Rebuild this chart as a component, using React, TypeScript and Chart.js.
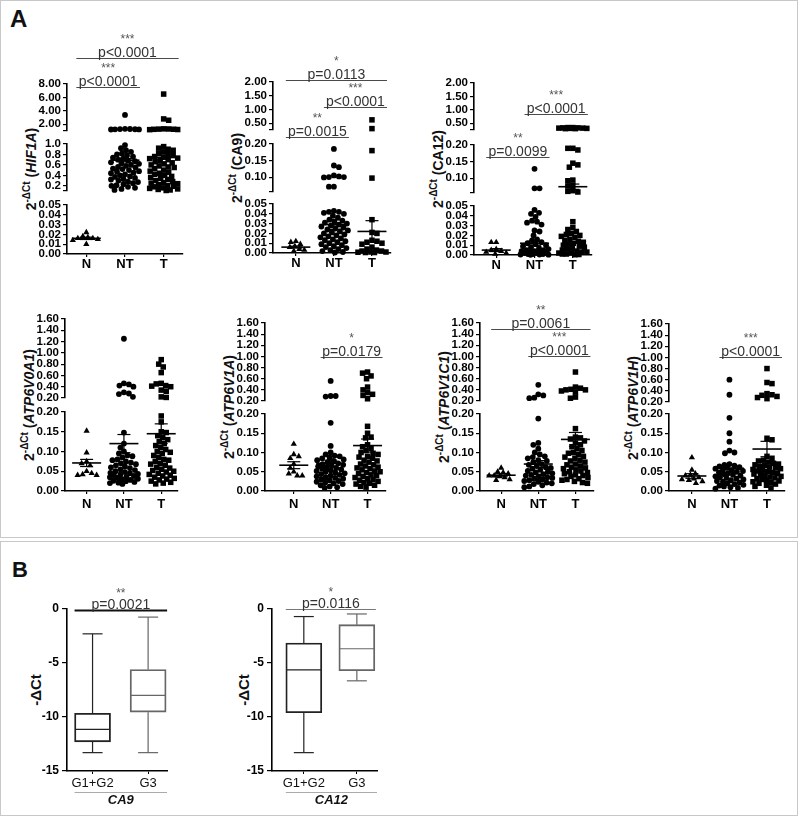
import React, { useEffect, useRef } from 'react';
import { Chart, registerables } from 'chart.js';
Chart.register(...registerables);

const FONT = "'Liberation Sans', Arial, Helvetica, sans-serif";
const GROUPS = ['N', 'NT', 'T'];
const BOX_GROUPS = ['G1+G2', 'G3'];

// ---------- HIF1A ----------
const HIF1A_N = [0.022, 0.018, 0.017, 0.016, 0.016, 0.015, 0.014, 0.010];
const HIF1A_NT = [3.4, 1.32, 1.3, 1.28, 1.26, 1.25, 1.24, 1.22, 0.98, 0.92, 0.88, 0.85, 0.82, 0.8, 0.78, 0.76, 0.74, 0.72, 0.7, 0.68, 0.67, 0.65, 0.63, 0.62, 0.6, 0.58, 0.56, 0.55, 0.53, 0.52, 0.5, 0.48, 0.47, 0.45, 0.44, 0.42, 0.4, 0.38, 0.37, 0.35, 0.33, 0.32, 0.3, 0.28, 0.27, 0.25, 0.23, 0.21, 0.2, 0.18, 0.16, 0.14, 0.12];
const HIF1A_T = [6.5, 2.8, 2.6, 1.32, 1.3, 1.28, 1.26, 1.25, 1.22, 1.2, 0.95, 0.92, 0.9, 0.88, 0.85, 0.82, 0.8, 0.78, 0.76, 0.75, 0.73, 0.72, 0.7, 0.68, 0.66, 0.64, 0.62, 0.6, 0.58, 0.56, 0.55, 0.53, 0.5, 0.48, 0.46, 0.44, 0.42, 0.4, 0.38, 0.36, 0.34, 0.32, 0.3, 0.28, 0.26, 0.25, 0.24, 0.22, 0.2, 0.19, 0.18, 0.16, 0.15, 0.14, 0.13, 0.12, 0.11];
const HIF1A_MEAN = [0.016, 0.69, 0.745];
const HIF1A_SEM = [0.0012, 0.03, 0.035];
const HIF1A_RANGES = [[1, 8], [0.1, 1.0], [0, 0.05]];
const HIF1A_TICKS = [[1, 2, 4, 6, 8], [0.1, 0.2, 0.4, 0.6, 0.8, 1.0], [0, 0.01, 0.02, 0.03, 0.04, 0.05]];
const HIF1A_LABELS = [['', '2.00', '4.00', '6.00', '8.00'], ['', '0.2', '0.4', '0.6', '0.8', '1.0'], ['0.00', '0.01', '0.02', '0.03', '0.04', '0.05']];
const HIF1A_ANNS = [
  { from: 0, to: 2, p: 'p<0.0001', stars: '***', dy: 26 },
  { from: 0, to: 1, p: 'p<0.0001', stars: '***', dy: -3 },
];

// ---------- CA9 ----------
const CA9_N = [0.012, 0.011, 0.009, 0.007, 0.006, 0.004, 0.003, 0.002];
const CA9_NT = [0.185, 0.135, 0.13, 0.105, 0.102, 0.1, 0.1, 0.099, 0.071, 0.071, 0.043, 0.042, 0.042, 0.041, 0.04, 0.038, 0.036, 0.034, 0.033, 0.032, 0.031, 0.03, 0.029, 0.028, 0.027, 0.026, 0.025, 0.024, 0.023, 0.022, 0.021, 0.02, 0.019, 0.018, 0.017, 0.016, 0.015, 0.014, 0.013, 0.012, 0.011, 0.01, 0.009, 0.008, 0.007, 0.006, 0.005, 0.004, 0.003, 0.002, 0.001, 0.0005];
const CA9_T = [0.62, 0.3, 0.18, 0.097, 0.034, 0.021, 0.02, 0.013, 0.012, 0.011, 0.01, 0.009, 0.006, 0.004, 0.003, 0.002, 0.002, 0.001, 0.001, 0.0008, 0.0005, 0.0005];
const CA9_MEAN = [0.006, 0.029, 0.022];
const CA9_SEM = [0.001, 0.005, 0.011];
const CA_RANGES = [[0.25, 2.0], [0.055, 0.2], [0, 0.05]];
const CA_TICKS = [[0.25, 0.5, 1.0, 1.5, 2.0], [0.055, 0.1, 0.15, 0.2], [0, 0.01, 0.02, 0.03, 0.04, 0.05]];
const CA_LABELS = [['', '0.50', '1.00', '1.50', '2.00'], ['', '0.10', '0.15', '0.20'], ['0.00', '0.01', '0.02', '0.03', '0.04', '0.05']];
const CA9_ANNS = [
  { from: 0, to: 2, p: 'p=0.0113', stars: '*', dy: 2 },
  { from: 1, to: 2, p: 'p<0.0001', stars: '***', dy: -25 },
  { from: 0, to: 1, p: 'p=0.0015', stars: '**', dy: -55 },
];

// ---------- CA12 ----------
const CA12_N = [0.013, 0.013, 0.006, 0.005, 0.004, 0.003, 0.002, 0.001];
const CA12_NT = [0.128, 0.069, 0.069, 0.046, 0.043, 0.042, 0.039, 0.035, 0.034, 0.033, 0.031, 0.025, 0.024, 0.02, 0.016, 0.015, 0.013, 0.012, 0.011, 0.01, 0.009, 0.008, 0.007, 0.006, 0.005, 0.005, 0.004, 0.004, 0.003, 0.003, 0.002, 0.002, 0.002, 0.001, 0.001, 0.001, 0.0005, 0.0005, 0.0003, 0.0002];
const CA12_T = [0.34, 0.34, 0.33, 0.33, 0.32, 0.32, 0.31, 0.31, 0.3, 0.3, 0.19, 0.19, 0.185, 0.145, 0.14, 0.133, 0.094, 0.092, 0.078, 0.076, 0.062, 0.06, 0.058, 0.034, 0.028, 0.026, 0.024, 0.022, 0.021, 0.02, 0.019, 0.018, 0.016, 0.015, 0.014, 0.013, 0.012, 0.011, 0.01, 0.009, 0.008, 0.007, 0.006, 0.005, 0.004, 0.003, 0.003, 0.002, 0.002, 0.001, 0.001, 0.0005, 0.0003];
const CA12_MEAN = [0.005, 0.012, 0.074];
const CA12_SEM = [0.0015, 0.002, 0.008];
const CA12_ANNS = [
  { from: 1, to: 2, p: 'p<0.0001', stars: '***', dy: -31 },
  { from: 0, to: 1, p: 'p=0.0099', stars: '**', dy: -74 },
];

// ---------- ATP6V* shared axes ----------
const ATP_RANGES = [[0.2, 1.6], [0, 0.2]];
const ATP_TICKS = [[0.2, 0.4, 0.6, 0.8, 1.0, 1.2, 1.4, 1.6], [0, 0.05, 0.1, 0.15, 0.2]];
const ATP_LABELS = [['0.20', '0.40', '0.60', '0.80', '1.00', '1.20', '1.40', '1.60'], ['0.00', '0.05', '0.10', '0.15', '0.20']];

// ATP6V0A1
const V0A1_N = [0.152, 0.097, 0.075, 0.07, 0.065, 0.05, 0.045, 0.042, 0.04, 0.04];
const V0A1_NT = [1.25, 0.46, 0.44, 0.42, 0.4, 0.3, 0.28, 0.27, 0.22, 0.148, 0.12, 0.11, 0.1, 0.095, 0.09, 0.088, 0.085, 0.08, 0.078, 0.075, 0.072, 0.07, 0.068, 0.065, 0.062, 0.06, 0.058, 0.055, 0.053, 0.05, 0.048, 0.046, 0.045, 0.043, 0.042, 0.04, 0.038, 0.036, 0.035, 0.033, 0.031, 0.03, 0.028, 0.026, 0.025, 0.023, 0.021, 0.02, 0.018];
const V0A1_T = [0.88, 0.8, 0.75, 0.65, 0.46, 0.45, 0.42, 0.41, 0.4, 0.34, 0.32, 0.22, 0.21, 0.19, 0.175, 0.15, 0.148, 0.14, 0.135, 0.13, 0.125, 0.12, 0.115, 0.11, 0.105, 0.1, 0.098, 0.095, 0.09, 0.085, 0.08, 0.078, 0.075, 0.07, 0.068, 0.065, 0.06, 0.058, 0.055, 0.052, 0.05, 0.048, 0.045, 0.042, 0.04, 0.038, 0.035, 0.032, 0.03, 0.028, 0.025, 0.022, 0.02, 0.018];
const V0A1_MEAN = [0.071, 0.12, 0.145];
const V0A1_SEM = [0.009, 0.023, 0.025];
const V0A1_ANNS: any[] = [];

// ATP6V1A
const V1A_N = [0.122, 0.095, 0.09, 0.085, 0.07, 0.06, 0.05, 0.045, 0.04, 0.04];
const V1A_NT = [0.56, 0.29, 0.29, 0.28, 0.177, 0.117, 0.1, 0.095, 0.092, 0.09, 0.087, 0.085, 0.082, 0.08, 0.078, 0.075, 0.072, 0.07, 0.068, 0.066, 0.064, 0.062, 0.06, 0.058, 0.056, 0.054, 0.052, 0.05, 0.048, 0.046, 0.044, 0.042, 0.04, 0.038, 0.036, 0.034, 0.032, 0.03, 0.028, 0.026, 0.024, 0.022, 0.02, 0.018, 0.015, 0.012, 0.01, 0.008];
const V1A_T = [0.72, 0.7, 0.65, 0.6, 0.45, 0.4, 0.35, 0.32, 0.3, 0.24, 0.168, 0.15, 0.14, 0.138, 0.12, 0.115, 0.11, 0.105, 0.1, 0.098, 0.095, 0.09, 0.088, 0.085, 0.08, 0.078, 0.075, 0.07, 0.068, 0.065, 0.062, 0.06, 0.058, 0.055, 0.052, 0.05, 0.048, 0.045, 0.042, 0.04, 0.038, 0.035, 0.032, 0.03, 0.028, 0.025, 0.022, 0.02, 0.018, 0.015, 0.012, 0.01];
const V1A_MEAN = [0.067, 0.072, 0.118];
const V1A_SEM = [0.009, 0.008, 0.017];
const V1A_ANNS = [{ from: 1, to: 2, p: 'p=0.0179', stars: '*', dy: -34 }];

// ATP6V1C1
const V1C1_N = [0.06, 0.05, 0.048, 0.045, 0.04, 0.04, 0.038, 0.035, 0.03, 0.028];
const V1C1_NT = [0.49, 0.32, 0.3, 0.26, 0.25, 0.188, 0.125, 0.12, 0.11, 0.1, 0.095, 0.09, 0.088, 0.085, 0.08, 0.078, 0.075, 0.07, 0.068, 0.065, 0.062, 0.06, 0.058, 0.055, 0.052, 0.05, 0.048, 0.046, 0.044, 0.042, 0.04, 0.038, 0.036, 0.034, 0.032, 0.03, 0.028, 0.026, 0.024, 0.022, 0.02, 0.018, 0.015, 0.012, 0.01];
const V1C1_T = [0.72, 0.45, 0.43, 0.41, 0.4, 0.4, 0.38, 0.36, 0.27, 0.25, 0.162, 0.14, 0.138, 0.135, 0.13, 0.125, 0.12, 0.115, 0.11, 0.105, 0.1, 0.098, 0.095, 0.09, 0.088, 0.085, 0.08, 0.078, 0.075, 0.07, 0.068, 0.065, 0.062, 0.06, 0.058, 0.055, 0.052, 0.05, 0.048, 0.045, 0.042, 0.04, 0.038, 0.035, 0.032, 0.03, 0.028, 0.025, 0.022, 0.02];
const V1C1_MEAN = [0.041, 0.07, 0.134];
const V1C1_SEM = [0.004, 0.009, 0.018];
const V1C1_ANNS = [
  { from: 0, to: 2, p: 'p=0.0061', stars: '**', dy: -6 },
  { from: 1, to: 2, p: 'p<0.0001', stars: '***', dy: -33 },
];

// ATP6V1H
const V1H_N = [0.087, 0.055, 0.045, 0.042, 0.04, 0.035, 0.032, 0.03, 0.028, 0.025, 0.02];
const V1H_NT = [0.6, 0.33, 0.19, 0.15, 0.128, 0.105, 0.1, 0.098, 0.07, 0.068, 0.066, 0.064, 0.062, 0.06, 0.058, 0.056, 0.054, 0.052, 0.05, 0.048, 0.046, 0.044, 0.042, 0.04, 0.038, 0.036, 0.034, 0.032, 0.03, 0.028, 0.026, 0.024, 0.022, 0.02, 0.018, 0.016, 0.014, 0.012, 0.01, 0.008, 0.006];
const V1H_T = [0.8, 0.55, 0.53, 0.35, 0.33, 0.32, 0.3, 0.28, 0.26, 0.137, 0.133, 0.09, 0.085, 0.08, 0.078, 0.075, 0.072, 0.07, 0.068, 0.066, 0.064, 0.062, 0.06, 0.058, 0.056, 0.054, 0.052, 0.05, 0.048, 0.046, 0.044, 0.042, 0.04, 0.038, 0.036, 0.034, 0.032, 0.03, 0.028, 0.026, 0.024, 0.022, 0.02, 0.018, 0.015, 0.012, 0.008];
const V1H_MEAN = [0.039, 0.059, 0.109];
const V1H_SEM = [0.006, 0.01, 0.02];
const V1H_ANNS = [{ from: 1, to: 2, p: 'p<0.0001', stars: '***', dy: -33 }];

// ---------- Panel B box plots (-ΔCt) ----------
const B_CA9_MIN = [-13.3, -13.3];
const B_CA9_Q1 = [-12.3, -9.55];
const B_CA9_MED = [-11.15, -8.0];
const B_CA9_Q3 = [-9.65, -5.6];
const B_CA9_MAX = [-2.3, -0.75];
const B_CA12_MIN = [-13.3, -6.65];
const B_CA12_Q1 = [-9.6, -5.72];
const B_CA12_MED = [-5.64, -3.68];
const B_CA12_Q3 = [-3.15, -1.45];
const B_CA12_MAX = [-0.7, -0.46];
const B_TICKS = [-15, -10, -5, 0];
const B_LABELS = ['-15', '-10', '-5', '0'];
const B_CA9_ANNS = [{ from: 0, to: 1, p: 'p=0.0021', stars: '**', dy: -1 }];
const B_CA12_ANNS = [{ from: 0, to: 1, p: 'p=0.0116', stars: '*', dy: 0 }];

// ---------- style constants ----------
const AXIS_W = 44;
const RIGHT_PAD = 22;
const STYLES = ['triangle', 'circle', 'rect'];
const RADII = [3.6, 2.9, 3.9];
const MIN_D = 5.0;
const MAX_OFF = 14;

function swarm(ys: number[], d: number, maxOff: number): number[] {
  const order = ys.map((_, i) => i).sort((a, b) => ys[a] - ys[b]);
  const placed: number[][] = [];
  const out: number[] = new Array(ys.length).fill(0);
  const cands: number[] = [0];
  for (let s = 0.5; s <= maxOff; s += 0.5) cands.push(s, -s);
  order.forEach((i, n) => {
    const y = ys[i];
    const near = placed.filter((p) => Math.abs(p[1] - y) < d);
    const sgn = n % 2 === 0 ? 1 : -1;
    let best = 0;
    let bestScore = -1;
    for (const c0 of cands) {
      const c = c0 * sgn;
      let m = Infinity;
      for (const p of near) {
        const dist = Math.hypot(p[0] - c, p[1] - y);
        if (dist < m) m = dist;
      }
      if (m >= d) { best = c; break; }
      if (m > bestScore) { bestScore = m; best = c; }
    }
    placed.push([best, y]);
    out[i] = best;
  });
  return out;
}

function annPlugin(anns: any[], ext: number[], starGap: number) {
  return {
    id: 'annotations',
    afterDraw(chart: any) {
      const ctx = chart.ctx;
      const xs = chart.scales.x;
      const top = chart.chartArea.top;
      ctx.save();
      for (const a of anns) {
        const x1 = xs.getPixelForValue(a.from) - ext[0];
        const x2 = xs.getPixelForValue(a.to) + ext[1];
        const y = Math.round(top - a.dy) + 0.5;
        ctx.strokeStyle = a.color || '#4a4a4a';
        ctx.lineWidth = a.lw || 1.1;
        ctx.beginPath();
        ctx.moveTo(x1, y);
        ctx.lineTo(x2, y);
        ctx.stroke();
        const cx = (x1 + x2) / 2;
        ctx.fillStyle = '#333';
        ctx.textAlign = 'center';
        ctx.textBaseline = 'alphabetic';
        ctx.font = `14px ${FONT}`;
        ctx.fillText(a.p, cx, y - 2);
        ctx.font = `12px ${FONT}`;
        ctx.fillStyle = '#555';
        ctx.fillText(a.stars, cx, y - starGap);
      }
      ctx.restore();
    },
  };
}

type DotCfg = {
  gene: string; italic: boolean;
  groups: number[][]; mean: number[]; sem: number[];
  ranges: number[][]; ticks: number[][]; labels: string[][];
  anns: any[];
  layout: { axisX: number; top: number; segH: number[]; gaps: number[]; xMin: number; xMax: number; plotW: number; padTop: number; xH: number; xPad: number; tickFont: number };
};

const DOTS: DotCfg[] = [
  { gene: 'HIF1A', italic: true, groups: [HIF1A_N, HIF1A_NT, HIF1A_T], mean: HIF1A_MEAN, sem: HIF1A_SEM, ranges: HIF1A_RANGES, ticks: HIF1A_TICKS, labels: HIF1A_LABELS, anns: HIF1A_ANNS,
    layout: { axisX: 67, top: 84, segH: [47, 47, 49], gaps: [13, 14], xMin: -0.5, xMax: 2.5, plotW: 116, padTop: 60, xH: 22, xPad: 0, tickFont: 11.5 } },
  { gene: 'CA9', italic: false, groups: [CA9_N, CA9_NT, CA9_T], mean: CA9_MEAN, sem: CA9_SEM, ranges: CA_RANGES, ticks: CA_TICKS, labels: CA_LABELS, anns: CA9_ANNS,
    layout: { axisX: 273, top: 82, segH: [48, 48, 49], gaps: [14, 12], xMin: -0.6, xMax: 2.5, plotW: 118, padTop: 40, xH: 22, xPad: 0, tickFont: 11.5 } },
  { gene: 'CA12', italic: false, groups: [CA12_N, CA12_NT, CA12_T], mean: CA12_MEAN, sem: CA12_SEM, ranges: CA_RANGES, ticks: CA_TICKS, labels: CA_LABELS, anns: CA12_ANNS,
    layout: { axisX: 474, top: 83, segH: [47, 48, 49], gaps: [15, 13], xMin: -0.58, xMax: 2.5, plotW: 118, padTop: 30, xH: 22, xPad: 0, tickFont: 11.5 } },
  { gene: 'ATP6V0A1', italic: true, groups: [V0A1_N, V0A1_NT, V0A1_T], mean: V0A1_MEAN, sem: V0A1_SEM, ranges: ATP_RANGES, ticks: ATP_TICKS, labels: ATP_LABELS, anns: V0A1_ANNS,
    layout: { axisX: 65, top: 319, segH: [79, 79], gaps: [14], xMin: -0.58, xMax: 2.45, plotW: 113, padTop: 30, xH: 24, xPad: 3, tickFont: 11.5 } },
  { gene: 'ATP6V1A', italic: true, groups: [V1A_N, V1A_NT, V1A_T], mean: V1A_MEAN, sem: V1A_SEM, ranges: ATP_RANGES, ticks: ATP_TICKS, labels: ATP_LABELS, anns: V1A_ANNS,
    layout: { axisX: 265, top: 323, segH: [78, 77], gaps: [13], xMin: -0.78, xMax: 2.5, plotW: 121, padTop: 30, xH: 24, xPad: 3, tickFont: 11.5 } },
  { gene: 'ATP6V1C1', italic: true, groups: [V1C1_N, V1C1_NT, V1C1_T], mean: V1C1_MEAN, sem: V1C1_SEM, ranges: ATP_RANGES, ticks: ATP_TICKS, labels: ATP_LABELS, anns: V1C1_ANNS,
    layout: { axisX: 480, top: 323, segH: [78, 77], gaps: [13], xMin: -0.57, xMax: 2.5, plotW: 114, padTop: 30, xH: 24, xPad: 3, tickFont: 11.5 } },
  { gene: 'ATP6V1H', italic: true, groups: [V1H_N, V1H_NT, V1H_T], mean: V1H_MEAN, sem: V1H_SEM, ranges: ATP_RANGES, ticks: ATP_TICKS, labels: ATP_LABELS, anns: V1H_ANNS,
    layout: { axisX: 669, top: 324, segH: [78, 77], gaps: [12], xMin: -0.61, xMax: 2.48, plotW: 116, padTop: 30, xH: 24, xPad: 3, tickFont: 11.5 } },
];

function DotPanel({ c }: { c: DotCfg }) {
  const ref = useRef<HTMLCanvasElement>(null);
  const L = c.layout;
  const plotH = L.segH.reduce((a, b) => a + b, 0) + L.gaps.reduce((a, b) => a + b, 0);
  const W = AXIS_W + L.plotW + RIGHT_PAD;
  const H = L.padTop + plotH + L.xH;

  useEffect(() => {
    const sp = L.plotW / (L.xMax - L.xMin);
    const segs = c.ranges.map((r, i) => ({ min: r[0], max: r[1], h: L.segH[i], top: 0 }));
    let acc = 0;
    segs.forEach((s, i) => { s.top = acc; acc += s.h + (L.gaps[i] || 0); });
    const segOf = (v: number) => {
      let best = 0, bd = Infinity;
      segs.forEach((s, i) => {
        const d = v < s.min ? s.min - v : v > s.max ? v - s.max : 0;
        if (d < bd) { bd = d; best = i; }
      });
      return best;
    };
    const clampTo = (v: number, s: any) => Math.min(s.max, Math.max(s.min, v));
    const toPx = (v: number, si: number) => {
      const s = segs[si];
      return s.top + ((s.max - clampTo(v, s)) / (s.max - s.min)) * s.h;
    };

    const datasets: any[] = [];
    c.groups.forEach((_, g) => {
      const m = c.mean[g], e = c.sem[g];
      const si = segOf(m);
      const s = segs[si];
      datasets.push({
        type: 'scatter', data: [{ x: g, y: clampTo(m, s) }], yAxisID: 'y' + si,
        pointStyle: 'line', pointRadius: 14.5, pointBorderColor: '#000', pointBorderWidth: 1.6, order: 0, clip: false,
      });
      datasets.push({
        type: 'scatter', data: [{ x: g, y: clampTo(m + e, s) }, { x: g, y: clampTo(m - e, s) }], yAxisID: 'y' + si,
        pointStyle: 'line', pointRadius: 6.5, pointBorderColor: '#000', pointBorderWidth: 1.2,
        showLine: true, borderColor: '#000', borderWidth: 1.2, order: 0, clip: false,
      });
    });
    c.groups.forEach((vals, g) => {
      const sis = vals.map(segOf);
      const ys = vals.map((v, i) => toPx(v, sis[i]));
      const offs = swarm(ys, MIN_D, MAX_OFF);
      segs.forEach((s, si) => {
        const data: any[] = [];
        vals.forEach((v, i) => { if (sis[i] === si) data.push({ x: g + offs[i] / sp, y: clampTo(v, s) }); });
        if (data.length) {
          datasets.push({
            type: 'scatter', data, yAxisID: 'y' + si, pointStyle: STYLES[g], pointRadius: RADII[g],
            pointBackgroundColor: '#000', pointBorderColor: '#000', pointBorderWidth: 0, order: 1, clip: false,
          });
        }
      });
    });

    // Chart.js stacks scales of one stack with the last-declared on top,
    // so the segments are declared from the bottom one upwards.
    const scales: any = {};
    for (let si = segs.length - 1; si >= 0; si--) {
      const s = segs[si];
      scales['y' + si] = {
        type: 'linear', position: 'left', stack: 'ystack', stackWeight: s.h, min: s.min, max: s.max,
        afterFit: (sc: any) => { sc.width = AXIS_W; },
        afterBuildTicks: (sc: any) => { sc.ticks = c.ticks[si].map((v) => ({ value: v })); },
        ticks: { autoSkip: false, padding: 2, color: '#000', font: { family: FONT, size: L.tickFont, weight: 'bold' }, callback: (_v: any, i: number) => c.labels[si][i] },
        grid: { display: true, drawOnChartArea: false, drawTicks: true, tickLength: 4, color: '#000', lineWidth: 1.2 },
        border: { display: true, color: '#000', width: 1.6 },
      };
      if (si > 0) {
        scales['gap' + (si - 1)] = {
          type: 'linear', position: 'left', stack: 'ystack', stackWeight: L.gaps[si - 1], display: true,
          afterFit: (sc: any) => { sc.width = AXIS_W; },
          grid: { display: false }, border: { display: false }, ticks: { display: false },
        };
      }
    }
    scales.x = {
      type: 'linear', min: L.xMin, max: L.xMax, offset: false,
      afterFit: (sc: any) => { sc.height = L.xH; },
      afterBuildTicks: (sc: any) => { sc.ticks = [0, 1, 2].map((v) => ({ value: v })); },
      ticks: { autoSkip: false, maxRotation: 0, padding: L.xPad, color: '#000', font: { family: FONT, size: 13, weight: 'bold' }, callback: (_v: any, i: number) => GROUPS[i] },
      grid: { display: true, drawOnChartArea: false, drawTicks: true, tickLength: 3, color: '#000', lineWidth: 1.2, offset: false },
      border: { display: true, color: '#000', width: 1.6 },
    };

    const chart = new Chart(ref.current as HTMLCanvasElement, {
      type: 'scatter',
      data: { datasets },
      options: {
        responsive: false, animation: false, events: [],
        layout: { padding: { top: L.padTop, right: RIGHT_PAD, left: 0, bottom: 0 } },
        plugins: { legend: { display: false }, tooltip: { enabled: false } },
        scales,
      } as any,
      plugins: [annPlugin(c.anns, [10, 15], 16)],
    } as any);
    return () => chart.destroy();
  }, []);

  return (
    <>
      <div style={{
        position: 'absolute', left: L.axisX - 36, top: L.top + plotH / 2,
        transform: 'translate(-50%, -50%) rotate(-90deg)', whiteSpace: 'nowrap',
        fontWeight: 'bold', fontSize: 14, lineHeight: 1, color: '#111',
      }}>
        2<span style={{ fontSize: 10, position: 'relative', top: -6 }}>-ΔCt</span> ({c.italic ? <i>{c.gene}</i> : c.gene})
      </div>
      <canvas ref={ref} width={W} height={H}
        style={{ position: 'absolute', left: L.axisX - AXIS_W, top: L.top - L.padTop, width: W, height: H }} />
    </>
  );
}

type BoxCfg = {
  gene: string; min: number[]; q1: number[]; med: number[]; q3: number[]; max: number[]; anns: any[];
  layout: { axisX: number; top: number; plotH: number; xMin: number; xMax: number; plotW: number; padTop: number; xH: number; titleDx: number };
};

const BOXES: BoxCfg[] = [
  { gene: 'CA9', min: B_CA9_MIN, q1: B_CA9_Q1, med: B_CA9_MED, q3: B_CA9_Q3, max: B_CA9_MAX, anns: B_CA9_ANNS.map((a) => ({ ...a, color: '#111', lw: 1.8 })),
    layout: { axisX: 67, top: 609, plotH: 162, xMin: -0.46, xMax: 1.34, plotW: 100, padTop: 40, xH: 46, titleDx: 32 } },
  { gene: 'CA12', min: B_CA12_MIN, q1: B_CA12_Q1, med: B_CA12_MED, q3: B_CA12_Q3, max: B_CA12_MAX, anns: B_CA12_ANNS.map((a) => ({ ...a, color: '#777', lw: 1 })),
    layout: { axisX: 272, top: 609, plotH: 162, xMin: -0.6, xMax: 1.38, plotW: 105, padTop: 40, xH: 46, titleDx: 29 } },
];
const BOX_COLORS = ['#222', '#666'];

function BoxPanel({ c }: { c: BoxCfg }) {
  const ref = useRef<HTMLCanvasElement>(null);
  const L = c.layout;
  const W = AXIS_W + L.plotW + RIGHT_PAD;
  const H = L.padTop + L.plotH + L.xH;

  useEffect(() => {
    const datasets: any[] = [];
    datasets.push({
      type: 'bar', data: c.q1.map((q, i) => ({ x: i, y: [q, c.q3[i]] })),
      backgroundColor: 'rgba(255,255,255,0)', borderColor: BOX_COLORS, borderWidth: 1.2, borderSkipped: false,
      barThickness: 36, order: 1,
    });
    c.q1.forEach((_, i) => {
      const col = BOX_COLORS[i];
      datasets.push({ type: 'scatter', showLine: true, data: [{ x: i, y: c.max[i] }, { x: i, y: c.q3[i] }], borderColor: col, borderWidth: 1.2, pointRadius: 0, order: 0 });
      datasets.push({ type: 'scatter', showLine: true, data: [{ x: i, y: c.q1[i] }, { x: i, y: c.min[i] }], borderColor: col, borderWidth: 1.2, pointRadius: 0, order: 0 });
      datasets.push({ type: 'scatter', data: [{ x: i, y: c.max[i] }, { x: i, y: c.min[i] }], pointStyle: 'line', pointRadius: 10, pointBorderColor: col, pointBorderWidth: 1.2, order: 0 });
      datasets.push({ type: 'scatter', data: [{ x: i, y: c.med[i] }], pointStyle: 'line', pointRadius: 17.5, pointBorderColor: col, pointBorderWidth: 1.2, order: 0 });
    });

    const genePlugin = {
      id: 'geneLabel',
      afterDraw(chart: any) {
        const ctx = chart.ctx;
        const xs = chart.scales.x;
        const b = chart.chartArea.bottom;
        const x1 = xs.getPixelForValue(0) - 18;
        const x2 = chart.chartArea.right;
        ctx.save();
        ctx.strokeStyle = '#aaa';
        ctx.lineWidth = 1;
        ctx.beginPath();
        ctx.moveTo(x1, Math.round(b + 21) + 0.5);
        ctx.lineTo(x2, Math.round(b + 21) + 0.5);
        ctx.stroke();
        ctx.fillStyle = '#111';
        ctx.font = `italic bold 13px ${FONT}`;
        ctx.textAlign = 'center';
        ctx.textBaseline = 'middle';
        ctx.fillText(c.gene, (x1 + x2) / 2, b + 29);
        ctx.restore();
      },
    };

    const chart = new Chart(ref.current as HTMLCanvasElement, {
      type: 'scatter',
      data: { datasets },
      options: {
        responsive: false, animation: false, events: [],
        layout: { padding: { top: L.padTop, right: RIGHT_PAD, left: 0, bottom: 0 } },
        plugins: { legend: { display: false }, tooltip: { enabled: false } },
        scales: {
          y: {
            type: 'linear', position: 'left', min: -15, max: 0,
            afterFit: (sc: any) => { sc.width = AXIS_W; },
            afterBuildTicks: (sc: any) => { sc.ticks = B_TICKS.map((v) => ({ value: v })); },
            ticks: { autoSkip: false, padding: 3, color: '#000', font: { family: FONT, size: 12, weight: 'bold' }, callback: (_v: any, i: number) => B_LABELS[i] },
            grid: { display: true, drawOnChartArea: false, drawTicks: true, tickLength: 5, color: '#000', lineWidth: 1.2 },
            border: { display: true, color: '#000', width: 1.6 },
          },
          x: {
            type: 'linear', min: L.xMin, max: L.xMax, offset: false,
            afterFit: (sc: any) => { sc.height = L.xH; },
            afterBuildTicks: (sc: any) => { sc.ticks = [0, 1].map((v) => ({ value: v })); },
            ticks: { autoSkip: false, maxRotation: 0, padding: 2, color: '#111', font: { family: FONT, size: 13 }, callback: (_v: any, i: number) => BOX_GROUPS[i] },
            grid: { display: true, drawOnChartArea: false, drawTicks: true, tickLength: 3, color: '#000', lineWidth: 1, offset: false },
            border: { display: true, color: '#000', width: 1.6 },
          },
        },
      } as any,
      plugins: [annPlugin(c.anns, [18, 19], 14), genePlugin],
    } as any);
    return () => chart.destroy();
  }, []);

  return (
    <>
      <div style={{
        position: 'absolute', left: L.axisX - L.titleDx, top: L.top + L.plotH / 2,
        transform: 'translate(-50%, -50%) rotate(-90deg)', whiteSpace: 'nowrap',
        fontWeight: 'bold', fontSize: 15, lineHeight: 1, color: '#111',
      }}>-ΔCt</div>
      <canvas ref={ref} width={W} height={H}
        style={{ position: 'absolute', left: L.axisX - AXIS_W, top: L.top - L.padTop, width: W, height: H }} />
    </>
  );
}

export default function App() {
  return (
    <div style={{ position: 'absolute', left: 0, top: 0, width: 799, height: 818, background: '#fff', fontFamily: FONT, overflow: 'hidden' }}>
      <div style={{ position: 'absolute', left: 0, top: 0, width: 796, height: 536, border: '1px solid #c8c8c8' }} />
      <div style={{ position: 'absolute', left: 0, top: 541, width: 796, height: 273, border: '1px solid #c8c8c8' }} />
      <div style={{ position: 'absolute', left: 10, top: 7, fontSize: 24, fontWeight: 'bold', lineHeight: 1, color: '#111' }}>A</div>
      <div style={{ position: 'absolute', left: 12, top: 559, fontSize: 22, fontWeight: 'bold', lineHeight: 1, color: '#111' }}>B</div>
      {DOTS.map((c) => <DotPanel key={c.gene} c={c} />)}
      {BOXES.map((c) => <BoxPanel key={'b' + c.gene} c={c} />)}
    </div>
  );
}
